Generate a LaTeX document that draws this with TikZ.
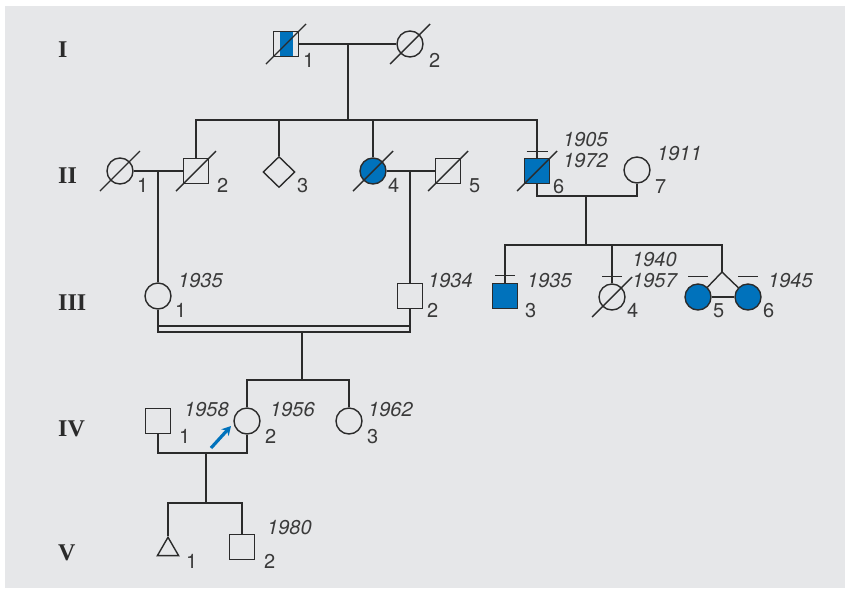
\documentclass[tikz,border=0pt]{standalone}
\usepackage{fontspec}
\usetikzlibrary{shapes.geometric,arrows.meta,calc}
\newfontfamily\herosfont{TeX Gyre Heros}
\newfontfamily\genfont{Liberation Serif}
\definecolor{bggray}{HTML}{E6E7E9}
\definecolor{linegray}{HTML}{2B2B2B}
\definecolor{txtgray}{HTML}{3A3A3A}
\definecolor{pedblue}{HTML}{0072BC}
\newcommand\deceased[1]{\draw[ped] ([shift={(-20,20)}]#1.center) -- ([shift={(20,-20)}]#1.center);}
\newcommand\idtick[1]{\draw[ped] ([shift={(-10,-7)}]#1.north) -- ([shift={(10,-7)}]#1.north);}
\begin{document}
\begin{tikzpicture}[x=1pt,y=-1pt,
  ped/.style={draw=linegray,line width=1.4pt},
  sq/.style={ped,rectangle,minimum size=25.5pt,inner sep=0pt,fill=bggray},
  ci/.style={ped,circle,minimum size=26pt,inner sep=0pt,fill=bggray},
  dm/.style={ped,diamond,minimum width=32pt,minimum height=31pt,inner sep=0pt,fill=bggray},
  tri/.style={ped,regular polygon,regular polygon sides=3,minimum size=24.5pt,inner sep=0pt,fill=bggray},
  aff/.style={fill=pedblue},
  lab/.style={anchor=base west,inner sep=0pt,text=txtgray,font=\herosfont\fontsize{20}{20}\selectfont},
  yr/.style={lab,font=\herosfont\itshape\fontsize{20}{20}\selectfont},
  gen/.style={anchor=base west,inner sep=0pt,text=linegray,font=\genfont\bfseries\fontsize{24}{24}\selectfont}]
\useasboundingbox (0,0) rectangle (850,590);
\fill[bggray] (5,6) rectangle (845,588);

% generation labels
\node[gen] (gI) at (58,57) {I};
\node[gen] (gII) at (58,183) {II};
\node[gen] (gIII) at (58,310) {III};
\node[gen] (gIV) at (58,436) {IV};
\node[gen] (gV) at (58,560) {V};

% coordinates
\coordinate (m1) at (348,44);
\coordinate (s1) at (348,120);
\coordinate (m6) at (586,196);
\coordinate (s3) at (586,245);
\coordinate (tw) at (722,272);
\coordinate (cm) at (302,332);
\coordinate (s4) at (302,380);
\coordinate (m4) at (206,453);
\coordinate (s5) at (206,503);
\coordinate (arT) at (211,448);
\coordinate (arH) at (231,426);

% ---- generation I
\node[sq,path picture={\fill[pedblue] ([xshift=-6.5pt]path picture bounding box.south) rectangle ([xshift=6.5pt]path picture bounding box.north);}] (i1) at (286,44) {};
\node[ci] (i2) at (410,44) {};
\deceased{i1}\deceased{i2}
\draw[ped] (i1.east) -- (i2.west);
\draw[ped] (m1) -- (s1);

% ---- generation II
\node[ci] (ii1) at (120,171) {};
\node[sq] (ii2) at (196,171) {};
\node[dm] (ii3) at (279,172) {};
\node[ci,aff] (ii4) at (373,171) {};
\node[sq] (ii5) at (448,171) {};
\node[sq,aff] (ii6) at (537,171) {};
\node[ci] (ii7) at (637,170) {};
\deceased{ii1}\deceased{ii2}\deceased{ii4}\deceased{ii5}\deceased{ii6}
\draw[ped] (ii2.north) -- (ii2.north |- s1) -- (ii6.north |- s1) -- (ii6.north);
\draw[ped] (ii3.north) -- (ii3.north |- s1);
\draw[ped] (ii4.north) -- (ii4.north |- s1);
\draw[ped] ([shift={(-10.5,-6)}]ii6.north) -- ([shift={(10.5,-6)}]ii6.north);
\draw[ped] (ii1.east) -- (ii2.west);
\draw[ped] (ii4.east) -- (ii5.west);
\draw[ped] (ii6.south) -- (ii6.south |- m6) -- (ii7.south |- m6) -- (ii7.south);
\draw[ped] (m6) -- (s3);

% ---- generation III
\node[ci] (iii1) at (158,296) {};
\node[sq] (iii2) at (410,296) {};
\node[sq,aff] (iii3) at (505,296) {};
\node[ci] (iii4) at (612,297) {};
\node[ci,aff] (iii5) at (698,297) {};
\node[ci,aff] (iii6) at (748,297) {};
\deceased{iii4}
\draw[ped] (ii1.east -| iii1.north) -- (iii1.north);
\draw[ped] (ii4.east -| iii2.north) -- (iii2.north);
\draw[ped] (iii3.north) -- (iii3.north |- s3) -- (tw |- s3) -- (tw);
\draw[ped] (iii4.north) -- (iii4.north |- s3);
\draw[ped] (tw) -- (iii5);
\draw[ped] (tw) -- (iii6);
\draw[ped] (iii5.east) -- (iii6.west);
\idtick{iii3}\idtick{iii4}\idtick{iii5}\idtick{iii6}
% consanguineous union
\draw[ped] (iii1.south) -- (iii1.south |- cm) -- (iii2.south |- cm) -- (iii2.south);
\draw[ped] ([yshift=6pt]iii1.south |- cm) -- ([yshift=6pt]iii2.south |- cm);
\draw[ped] (cm) -- (s4);

% ---- generation IV
\node[sq] (iv1) at (158,421) {};
\node[ci] (iv2) at (247,421) {};
\node[ci] (iv3) at (349,421) {};
\draw[ped] (iv2.north) -- (iv2.north |- s4) -- (iv3.north |- s4) -- (iv3.north);
\draw[ped] (iv1.south) -- (iv1.south |- m4) -- (iv2.south |- m4) -- (iv2.south);
\draw[ped] (m4) -- (s5);
\draw[pedblue,line width=3.2pt,-{Stealth[length=9pt,width=10pt]}] (arT) -- (arH);

% ---- generation V
\node[tri] (v1) at (168,549.5) {};
\node[sq] (v2) at (242,547) {};
\draw[ped] (v1.north) -- (v1.north |- s5) -- (v2.north |- s5) -- (v2.north);

% ---- labels
\node[lab] (li1) at (303,67) {1};
\node[lab] (li2) at (429,67) {2};
\node[lab] (lii1) at (137,192) {1};
\node[lab] (lii2) at (217,192) {2};
\node[lab] (lii3) at (297,192) {3};
\node[lab] (lii4) at (388,192) {4};
\node[lab] (lii5) at (469,192) {5};
\node[lab] (lii6) at (553,193) {6};
\node[yr] (yii6a) at (563,146) {1905};
\node[yr] (yii6b) at (563,167) {1972};
\node[lab] (lii7) at (655,193) {7};
\node[yr] (yii7) at (657,160) {1911};
\node[lab] (liii1) at (175,317) {1};
\node[yr] (yiii1) at (178,287) {1935};
\node[lab] (liii2) at (427,317) {2};
\node[yr] (yiii2) at (428,287) {1934};
\node[lab] (liii3) at (525,317) {3};
\node[yr] (yiii3) at (527,287) {1935};
\node[lab] (liii4) at (627,317) {4};
\node[yr] (yiii4a) at (632,266) {1940};
\node[yr] (yiii4b) at (632,287) {1957};
\node[lab] (liii5) at (713,317) {5};
\node[lab] (liii6) at (763,317) {6};
\node[yr] (yiii6) at (768,287) {1945};
\node[lab] (liv1) at (179,443) {1};
\node[yr] (yiv1) at (184,416) {1958};
\node[lab] (liv2) at (265,443) {2};
\node[yr] (yiv2) at (270,416) {1956};
\node[lab] (liv3) at (367,443) {3};
\node[yr] (yiv3) at (368,416) {1962};
\node[lab] (lv1) at (186,568) {1};
\node[lab] (lv2) at (264,568) {2};
\node[yr] (yv2) at (267,534) {1980};
\end{tikzpicture}
\end{document}
